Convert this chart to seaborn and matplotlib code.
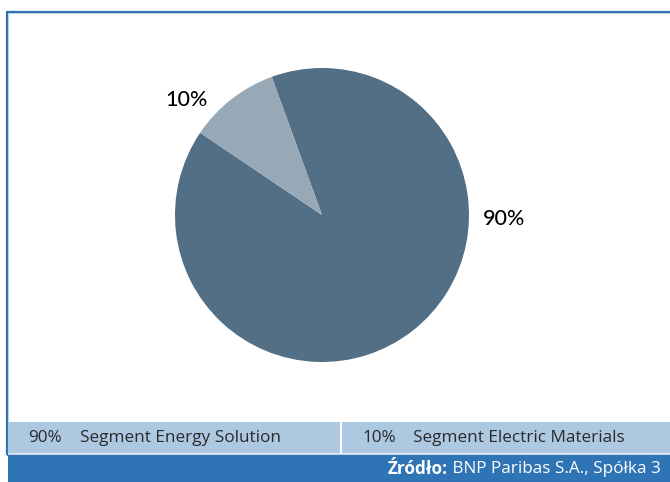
import matplotlib.pyplot as plt
import seaborn as sns
from matplotlib.patches import Rectangle

# data
segments = ['Segment Energy Solution', 'Segment Electric Materials']
shares = [90, 10]
slice_colors = ['#526f85', '#97a9b7']
source_bold = 'Źródło:'
source_text = ' BNP Paribas S.A., Spółka 3'

sns.set_theme(style='white')
plt.rcParams['font.family'] = ['Open Sans', 'DejaVu Sans']

W, H = 670, 482
fig = plt.figure(figsize=(W / 100, H / 100), dpi=100)
fig.patch.set_facecolor('white')


def fx(px):
    return px / W


def fy(py):
    return 1 - py / H


# outer frame (left + top blue border)
fig.add_artist(Rectangle((fx(6.5), fy(455)), fx(700), fy(11.5) - fy(455),
                         transform=fig.transFigure, fill=False,
                         edgecolor='#2f6fb3', lw=1.6, zorder=1))
fig.add_artist(Rectangle((fx(8), fy(454)), fx(700), fy(13) - fy(454),
                         transform=fig.transFigure, fill=False,
                         edgecolor='#b9d2ea', lw=0.8, zorder=1))

# pie
ax = fig.add_axes([fx(175), fy(362), fx(294), 294 / H])
ax.pie(shares, colors=slice_colors, startangle=146, counterclock=True,
       wedgeprops=dict(linewidth=0, antialiased=True))
ax.set_xlim(-1, 1)
ax.set_ylim(-1, 1)
ax.set_aspect('equal')
ax.axis('off')

label_pos = [(1.24, -0.03), (-0.92, 0.78)]
for (x, y), v in zip(label_pos, shares):
    ax.text(x, y, f'{v}%', ha='center', va='center', fontsize=15.5,
            family=['Lato', 'DejaVu Sans'], fontweight='medium', color='#000000')

# legend strip
fig.add_artist(Rectangle((fx(8), fy(453)), fx(700), fy(422) - fy(453),
                         transform=fig.transFigure, color='#adc8e1', lw=0, zorder=2))
fig.add_artist(Rectangle((fx(340), fy(453)), fx(2), fy(422) - fy(453),
                         transform=fig.transFigure, color='white', lw=0, zorder=3))
leg_x = [(28, 80), (362, 413)]
for (xp, xt), name, v in zip(leg_x, segments, shares):
    fig.text(fx(xp), fy(438), f'{v}%', ha='left', va='center',
             fontsize=12.3, color='#2a2a2a', zorder=4)
    fig.text(fx(xt), fy(438), name, ha='left', va='center',
             fontsize=12.3, color='#2a2a2a', zorder=4)

# footer
fig.add_artist(Rectangle((fx(8), 0), fx(700), fy(456),
                         transform=fig.transFigure, color='#2f74b4', lw=0, zorder=2))
t = fig.text(fx(661), fy(469), source_text, ha='right', va='center',
             fontsize=12.3, color='white', zorder=4)
fig.canvas.draw()
bb = t.get_window_extent()
fig.text(bb.x0 / W, fy(469), source_bold, ha='right', va='center',
         fontsize=12.3, color='white', fontweight='bold', zorder=4)

fig.savefig('out.png', dpi=100)
